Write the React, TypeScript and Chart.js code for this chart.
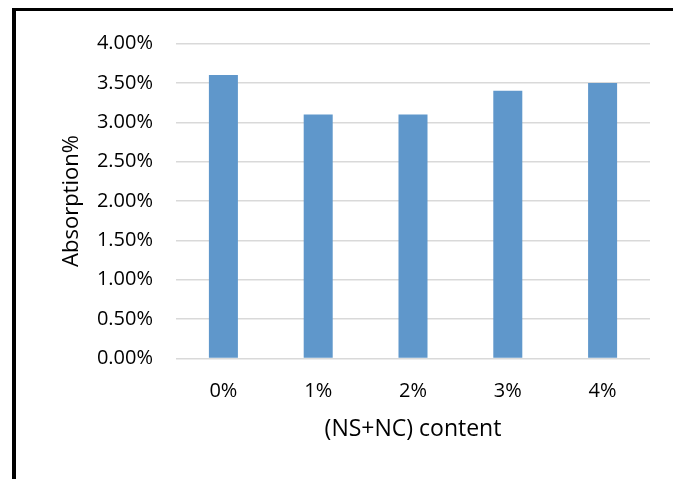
import React, { useEffect, useRef } from "react";
import { Chart, registerables } from "chart.js";

Chart.register(...registerables);

const categories = ["0%", "1%", "2%", "3%", "4%"];
const absorption = [3.6, 3.1, 3.1, 3.4, 3.5];
const yMin = 0;
const yMax = 4;
const yStep = 0.5;
const xTitle = "(NS+NC) content";
const yTitle = "Absorption%";

const FONT = "'Open Sans', sans-serif";

export default function App() {
  const ref = useRef<HTMLCanvasElement>(null);

  useEffect(() => {
    const canvas = ref.current;
    if (!canvas) return;
    const chart = new Chart(canvas, {
      type: "bar",
      data: {
        labels: categories,
        datasets: [
          {
            data: absorption,
            backgroundColor: "#5F97CB",
            borderWidth: 0,
            categoryPercentage: 1,
            barPercentage: 0.306,
          },
        ],
      },
      options: {
        animation: false,
        responsive: false,
        maintainAspectRatio: false,
        layout: { padding: { left: 50, right: 23, top: 43.5, bottom: 35.5 } },
        plugins: { legend: { display: false }, tooltip: { enabled: false } },
        scales: {
          x: {
            grid: { display: false, drawTicks: false },
            border: { display: false },
            ticks: {
              color: "#000",
              font: { family: FONT, size: 20 },
              padding: 21,
              maxRotation: 0,
            },
            title: {
              display: true,
              text: xTitle,
              color: "#000",
              font: { family: FONT, size: 23 },
              padding: { top: 19, bottom: 0 },
            },
            afterFit: (s: any) => {
              s.height = 85;
            },
          },
          y: {
            min: yMin,
            max: yMax,
            grid: { color: "#D9D9D9", lineWidth: 1.5, drawTicks: false },
            border: { display: false },
            ticks: {
              stepSize: yStep,
              color: "#000",
              font: { family: FONT, size: 20 },
              padding: 23,
              callback: (v: any) => Number(v).toFixed(2) + "%",
            },
            title: {
              display: true,
              text: yTitle,
              color: "#000",
              font: { family: FONT, size: 22 },
              padding: { top: 9, bottom: 0 },
            },
            afterFit: (s: any) => {
              s.width = 126;
            },
          },
        },
      },
    });
    return () => chart.destroy();
  }, []);

  return (
    <div
      style={{
        position: "fixed",
        left: 0,
        top: 0,
        width: 673,
        height: 479,
        overflow: "hidden",
        background: "#fff",
      }}
    >
      <div
        style={{
          position: "absolute",
          left: 12,
          top: 8,
          width: 720,
          height: 520,
          borderTop: "3px solid #000",
          borderLeft: "4px solid #000",
          boxSizing: "border-box",
        }}
      />
      <canvas
        ref={ref}
        width={673}
        height={479}
        style={{ position: "absolute", left: 0, top: 0, width: 673, height: 479 }}
      />
    </div>
  );
}
